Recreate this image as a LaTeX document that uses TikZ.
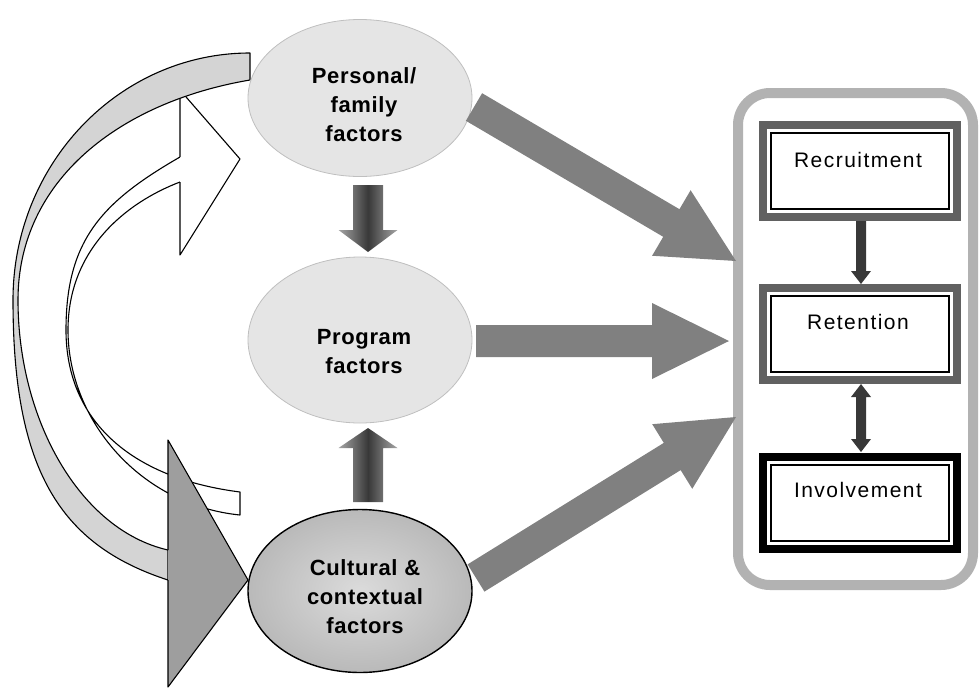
\documentclass[tikz,border=0pt]{standalone}
\usepackage{fontspec}
\setmainfont{Liberation Sans}
\usetikzlibrary{shapes.geometric,calc}
\pgfdeclareradialshading{culturalshade}{\pgfpoint{0bp}{0bp}}{color(0bp)=(black!14); color(30bp)=(black!30); color(50bp)=(black!55)}
% block arrow: #1 style, #2 start, #3 tip, #4 half shaft, #5 half head, #6 head length
\newcommand{\blockarr}[6]{%
  \coordinate (bab) at ($(#3)!#6!(#2)$);
  \path[#1] ($(#2)!#4!90:(#3)$) -- ($(bab)!#4!90:(#3)$) -- ($(bab)!#5!90:(#3)$) -- (#3)
    -- ($(bab)!#5!-90:(#3)$) -- ($(bab)!#4!-90:(#3)$) -- ($(#2)!#4!-90:(#3)$) -- cycle;}
% double block arrow
\newcommand{\dblarr}[6]{%
  \coordinate (dbb) at ($(#3)!#6!(#2)$);
  \coordinate (dba) at ($(#2)!#6!(#3)$);
  \path[#1] (#2) -- ($(dba)!#5!90:(#3)$) -- ($(dba)!#4!90:(#3)$) -- ($(dbb)!#4!90:(#3)$)
    -- ($(dbb)!#5!90:(#3)$) -- (#3) -- ($(dbb)!#5!-90:(#3)$) -- ($(dbb)!#4!-90:(#3)$)
    -- ($(dba)!#4!-90:(#3)$) -- ($(dba)!#5!-90:(#3)$) -- cycle;}
\begin{document}
\begin{tikzpicture}[x=1pt,y=-1pt,
  ell/.style={ellipse, inner sep=0pt, outer sep=0pt},
  lightell/.style={ell, fill=black!10, draw=black!25, line width=0.8pt},
  eltext/.style={align=center, inner sep=0pt, font=\fontsize{22}{29}\selectfont\bfseries\addfontfeatures{LetterSpace=3}},
  boxtext/.style={inner sep=0pt, font=\fontsize{21}{25}\selectfont\addfontfeatures{LetterSpace=7}},
  stagebox/.style={rectangle, minimum width=194pt, minimum height=92pt, inner sep=0pt, outer sep=0pt, line width=8pt, fill=white},
  innerline/.style={draw=black, line width=1.3pt},
  band/.style={draw=black, line width=1.1pt, line join=round},
  bigarrow/.style={fill=black!50},
  vshade/.style={left color=black!35, right color=black!35, middle color=black!78},
  smallarrow/.style={fill=black!78},
]
\useasboundingbox (0,0) rectangle (979,691);

% ---- white curved arrow (inner) ----
\path[band, fill=white]
  (180,157) .. controls (102,202) and (66,240) .. (66,330)
            .. controls (66,420) and (130,478) .. (240,492)
  -- (240,515)
            .. controls (140,505) and (68,420) .. (68,330)
            .. controls (68,250) and (125,203) .. (180,182);
\filldraw[band, fill=white] (180,157) -- (180,90) -- (240,159) -- (180,255) -- (180,182);

% ---- gray curved arrow (outer) ----
\path[band, fill=black!17]
  (250,53) .. controls (119,53) and (13,164) .. (13,300)
           .. controls (13,470) and (60,545) .. (168,580)
  -- (168,550)
           .. controls (80,530) and (18,420) .. (18,300)
           .. controls (18,180) and (120,102) .. (250,80)
  -- cycle;
\filldraw[band, fill=black!38] (168,550) -- (168,440) -- (248,580) -- (168,687) -- (168,580);

% ---- factor ellipses ----
\node[lightell, minimum width=224pt, minimum height=157pt] (pers) at (360,98) {};
\node[lightell, minimum width=224pt, minimum height=166pt] (prog) at (360,340) {};
\node[ell, minimum width=224pt, minimum height=163pt, shading=culturalshade, draw=black, line width=1.4pt] (cult) at (360,591) {};

% ---- vertical arrows between ellipses ----
\coordinate (v1s) at (368,185);
\coordinate (v1e) at (368,252);
\coordinate (v2s) at (368,502);
\coordinate (v2e) at (368,428);
\blockarr{vshade}{v1s}{v1e}{15pt}{29.5pt}{22pt}
\blockarr{vshade}{v2s}{v2e}{15pt}{29.5pt}{20pt}

% ---- outcome panel ----
\node[rectangle, rounded corners=32pt, draw=black!30, line width=10pt, minimum width=235pt, minimum height=492pt, inner sep=0pt, outer sep=0pt] (panel) at (855.5,339) {};

\node[stagebox, draw=black!62] (recr) at (860,171) {};
\node[stagebox, draw=black!62] (ret) at (860,334) {};
\node[stagebox, draw=black] (inv) at (860,503) {};
\foreach \b in {recr,ret,inv}
  \draw[innerline] ([shift={(8pt,-8pt)}]\b.north west) rectangle ([shift={(-8pt,8pt)}]\b.south east);

\coordinate (p1s) at (861,221);
\coordinate (p1e) at (861,284);
\coordinate (p2s) at (861,384);
\coordinate (p2e) at (861,452);
\blockarr{smallarrow}{p1s}{p1e}{5pt}{10pt}{13pt}
\dblarr{smallarrow}{p2s}{p2e}{5pt}{10pt}{13pt}

% ---- big arrows from factors to outcomes ----
\coordinate (b1s) at (474,107);
\coordinate (b1e) at (736,261);
\coordinate (b2s) at (476,341);
\coordinate (b2e) at (729,341);
\coordinate (b3s) at (476,578);
\coordinate (b3e) at (736,417);
\blockarr{bigarrow}{b1s}{b1e}{16pt}{38pt}{75pt}
\blockarr{bigarrow}{b2s}{b2e}{16pt}{38pt}{77pt}
\blockarr{bigarrow}{b3s}{b3e}{16pt}{38pt}{75pt}

% ---- texts ----
\node[eltext] (perst) at (364,105) {Personal/\\family\\factors};
\node[eltext] (progt) at (364,352) {Program\\factors};
\node[eltext] (cultt) at (365,597) {Cultural \&\\contextual\\factors};
\node[boxtext] (recrt) at (858,160) {Recruitment};
\node[boxtext] (rett) at (858,322) {Retention};
\node[boxtext] (invt) at (858,490) {Involvement};
\end{tikzpicture}
\end{document}
